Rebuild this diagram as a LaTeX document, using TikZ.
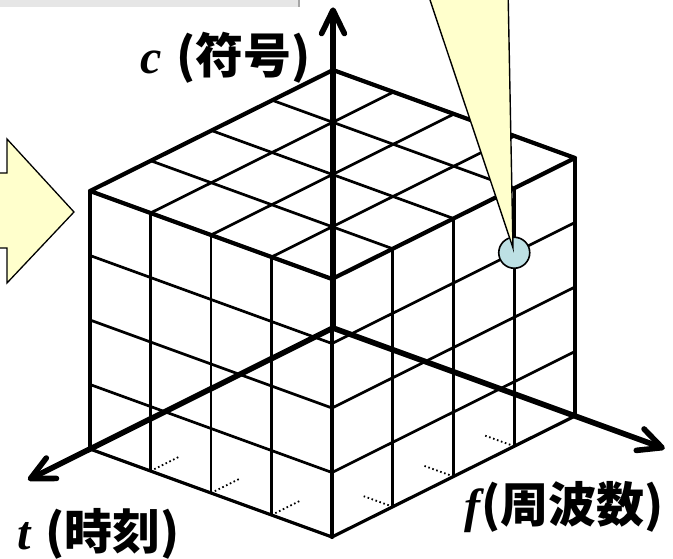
\documentclass[tikz,border=0pt]{standalone}
\usepackage{fontspec}
\newfontfamily\jpfont{Noto Sans CJK JP}
\newfontfamily\tmsfont{Liberation Serif}
\usetikzlibrary{calc}
\definecolor{lyellow}{RGB}{255,255,204}
\definecolor{lcyan}{RGB}{189,224,228}
\definecolor{boxgray}{RGB}{230,230,230}
\begin{document}
\begin{tikzpicture}[x=1pt,y=-1pt,
  gridline/.style={line width=2.7pt},
  edgeline/.style={line width=4.2pt, line cap=round, line join=round},
  bottomline/.style={line width=3.2pt, line cap=round, line join=round},
  hidden/.style={line width=1.8pt, dash pattern=on 1.6pt off 2.6pt},
  axis/.style={line width=5.6pt},
  barb/.style={line width=5.6pt, line cap=round, line join=round},
  lbl/.style={inner sep=0pt, anchor=base west, font=\fontsize{48}{48}\selectfont},
  callout/.style={fill=lyellow, draw=black, line width=1.4pt, line join=miter}
]
\useasboundingbox (0,0) rectangle (673,559);
\clip (0,0) rectangle (673,559);

% partial gray box at top left
\path[fill=boxgray] (-5,-20) rectangle (300,7);
\draw[gray!70, line width=2pt] (299,-5) -- (299,7);

% block arrow on the left
\draw[callout, line width=1.3pt] (-10,173) -- (7,173) -- (7,139) -- (74,212) -- (7,283) -- (7,248) -- (-10,248) -- cycle;

\begin{scope}[shift={(333,328)}, x={(-243pt,-121pt)}, y={(242pt,-88pt)}, z={(0pt,258pt)}]
  \coordinate (O) at (0,0,0);
  \coordinate (tend) at (1.245,0,0);
  \coordinate (fend) at (0,1.36,0);
  \coordinate (cend) at (0,0,1.232);
  % grid lines
  \foreach \k in {0.25,0.5,0.75} {
    \draw[gridline] (\k,0,1) -- (\k,1,1);
    \draw[gridline] (0,\k,1) -- (1,\k,1);
    \draw[gridline] (1,\k,0) -- (1,\k,1);
    \draw[gridline] (1,0,\k) -- (1,1,\k);
    \draw[gridline] (\k,1,0) -- (\k,1,1);
    \draw[gridline] (0,1,\k) -- (1,1,\k);
    \draw[hidden] (1,\k,0) -- (0.88,\k,0);
    \draw[hidden] (\k,1,0) -- (\k,0.88,0);
  }
  % outer edges
  \draw[bottomline] (1,0,0) -- (1,1,0) -- (0,1,0);
  \draw[edgeline] (0,0,1) -- (1,0,1) -- (1,1,1) -- (0,1,1) -- cycle;
  \draw[edgeline] (1,0,0) -- (1,0,1);
  \draw[edgeline] (1,1,0) -- (1,1,1);
  \draw[edgeline] (0,1,0) -- (0,1,1);
  % highlighted point
  \node[circle, draw=black, fill=lcyan, minimum size=31pt, inner sep=0pt, line width=1.6pt] (pt) at (0.25,1,0.75) {};
\end{scope}

% axes with open barbed heads
\foreach \e in {tend,fend,cend} {
  \draw[axis] (O) -- ($(\e)!2pt!(O)$);
  \draw[barb] ($(\e)!26pt!26:(O)$) -- (\e) -- ($(\e)!26pt!-26:(O)$);
}

% callout pointer
\coordinate (ctip) at (513,248);
\draw[callout] (426,-12) -- (ctip) -- (508,-12);

% labels
\node[lbl] (clbl) at (140,74) {{\tmsfont\bfseries\itshape c} {\jpfont\bfseries(符号)}};
\node[lbl] (tlbl) at (17,549) {{\tmsfont\bfseries\itshape t} {\jpfont\bfseries(時刻)}};
\node[lbl] (flbl) at (464,522) {{\tmsfont\bfseries\itshape f}\kern1pt{\jpfont\bfseries(周波数)}};
\end{tikzpicture}
\end{document}
